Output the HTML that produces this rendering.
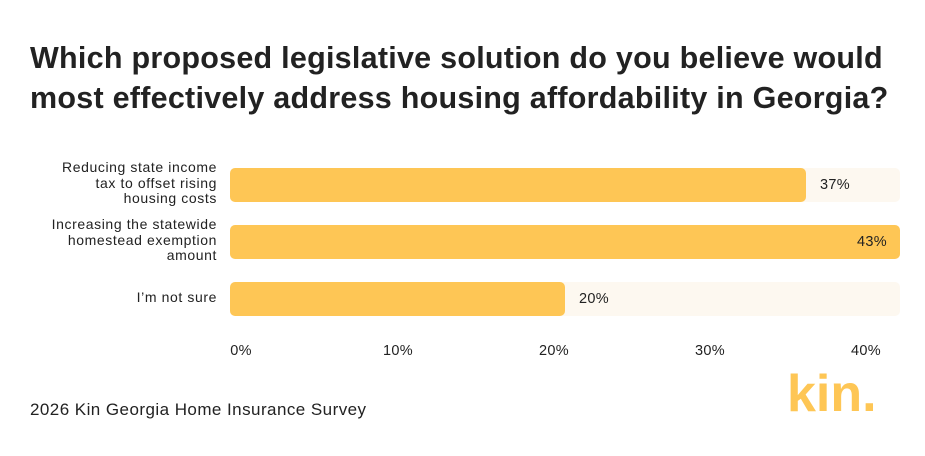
<!DOCTYPE html>
<html><head><style>
body{margin:0;width:925px;height:456px;background:#fff;position:relative;overflow:hidden;font-family:"Liberation Sans",sans-serif;color:#1a1a1a}
.t{position:absolute;left:30px;top:38px;font-size:30.5px;font-weight:bold;line-height:40px;letter-spacing:0.25px;color:#222;white-space:nowrap}
.lbl{position:absolute;right:708px;text-align:right;font-size:14px;line-height:15.5px;letter-spacing:0.6px;color:#222;white-space:nowrap}
.track{position:absolute;left:230px;width:670px;height:34px;background:#fdf8f0;border-radius:5px}
.bar{position:absolute;left:230px;height:34px;background:#fec655;border-radius:5px}
.v{position:absolute;font-size:14.5px;color:#222;letter-spacing:0.3px}
.tick{position:absolute;top:343px;font-size:14.5px;width:60px;text-align:center;margin-left:-30px;color:#222;letter-spacing:0.3px}
</style></head><body>
<div class="t">Which proposed legislative solution do you believe would<br>most effectively address housing affordability in Georgia?</div>
<div class="lbl" style="top:160px">Reducing state income<br>tax to offset rising<br>housing costs</div>
<div class="lbl" style="top:217px">Increasing the statewide<br>homestead exemption<br>amount</div>
<div class="lbl" style="top:290px">I’m not sure</div>
<div class="track" style="top:168px"></div><div class="bar" style="top:168px;width:576px"></div>
<div class="v" style="left:820px;top:177px">37%</div>
<div class="track" style="top:225px"></div><div class="bar" style="top:225px;width:670px"></div>
<div class="v" style="left:857px;top:234px">43%</div>
<div class="track" style="top:282px"></div><div class="bar" style="top:282px;width:335px"></div>
<div class="v" style="left:579px;top:291px">20%</div>
<div class="tick" style="left:241px">0%</div>
<div class="tick" style="left:398px">10%</div>
<div class="tick" style="left:554px">20%</div>
<div class="tick" style="left:710px">30%</div>
<div class="tick" style="left:866px">40%</div>
<div style="position:absolute;left:30px;top:400px;font-size:17px;color:#222;letter-spacing:0.45px">2026 Kin Georgia Home Insurance Survey</div>
<div style="position:absolute;left:787px;top:364px;font-size:52px;font-weight:bold;color:#fec655;letter-spacing:0px">kin.</div>
</body></html>
